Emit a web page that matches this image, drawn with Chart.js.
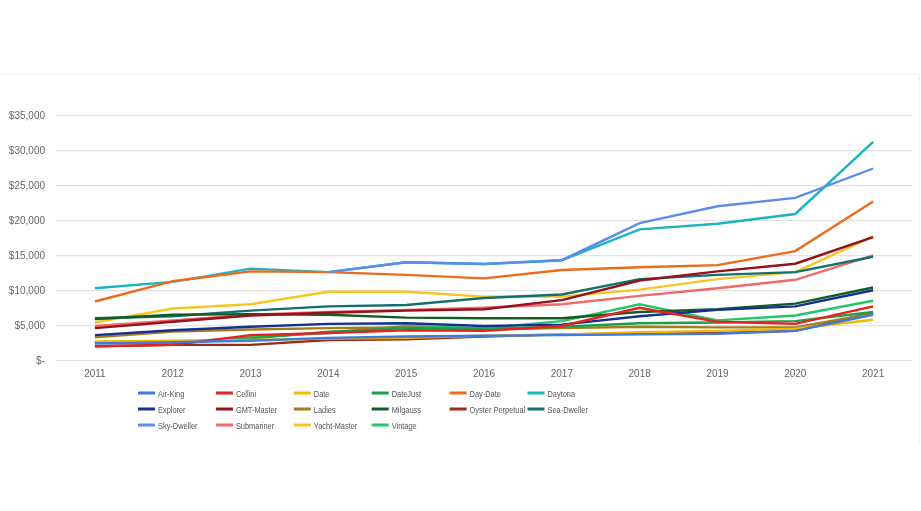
<!DOCTYPE html>
<html>
<head>
<meta charset="utf-8">
<script src="https://cdn.jsdelivr.net/npm/chart.js@4"></script>
<style>
  html, body { margin: 0; padding: 0; background: #ffffff; }
  #wrap { position: relative; width: 921px; height: 511px; }
  #frame { position: absolute; left: 0; top: 74px; width: 920px; height: 370px; border-top: 1px solid #f2f2f2; border-right: 1px solid #f2f2f2; box-sizing: border-box; }
  canvas { position: absolute; left: 0; top: 0; }
</style>
</head>
<body>
<div id="wrap">
  <div id="frame"></div>
  <canvas id="c" width="921" height="511"></canvas>
</div>
<script>
const years = ['2011','2012','2013','2014','2015','2016','2017','2018','2019','2020','2021'];
const yTicks = [0, 5000, 10000, 15000, 20000, 25000, 30000, 35000];

const seriesNames = ['Air-King','Cellini','Date','DateJust','Day-Date','Daytona','Explorer','GMT-Master','Ladies','Milgauss','Oyster Perpetual','Sea-Dweller','Sky-Dweller','Submariner','Yacht-Master','Vintage'];

const airKing     = [2500, 2700, 2900, 3300, 3500, 3600, 3700, 3800, 3900, 4300, 6600];
const cellini     = [2100, 2300, 3700, 4000, 4400, 4300, 5000, 7600, 5600, 5300, 7800];
const date        = [2800, 2900, 3000, 3200, 3300, 3600, 3800, 4100, 4300, 4600, 5900];
const dateJust    = [2700, 2500, 3200, 4200, 4700, 4600, 4900, 5400, 5500, 5700, 7000];
const dayDate     = [8500, 11400, 12800, 12700, 12300, 11800, 13000, 13400, 13700, 15700, 22800];
const daytona     = [10400, 11300, 13200, 12700, 14100, 13850, 14400, 18800, 19600, 21000, 31300];
const explorer    = [3700, 4400, 4900, 5300, 5400, 5000, 5200, 6400, 7300, 7800, 10100];
const gmtMaster   = [4700, 5600, 6500, 6900, 7200, 7400, 8700, 11500, 12800, 13900, 17700];
const ladies      = [3400, 4200, 4500, 4700, 4800, 4500, 4700, 4900, 4800, 4800, 6800];
const milgauss    = [6000, 6600, 6700, 6600, 6200, 6100, 6100, 7000, 7400, 8200, 10500];
const oyster      = [2100, 2300, 2300, 3000, 3100, 3500, 3800, 3900, 4000, 4300, 6900];
const seaDweller  = [6100, 6400, 7200, 7800, 8000, 9000, 9500, 11700, 12300, 12700, 14900];
const skyDweller  = [null, null, null, 12700, 14100, 13850, 14400, 19700, 22100, 23300, 27500];
const submariner  = [5000, 5800, 6600, 7000, 7300, 7600, 8100, 9300, 10400, 11600, 15100];
const yachtMaster = [5500, 7500, 8100, 9900, 9900, 9200, 9200, 10200, 11700, 12700, 17800];
const vintage     = [2600, 2600, 3400, 4000, 5000, 4700, 5700, 8100, 5800, 6500, 8600];

const seriesValues = [airKing, cellini, date, dateJust, dayDate, daytona, explorer, gmtMaster, ladies, milgauss, oyster, seaDweller, skyDweller, submariner, yachtMaster, vintage];
const seriesColors = ['#3D7BE0','#E32222','#F5B800','#1E9E48','#EE6A1C','#1BB5C0','#16308F','#96111A','#A47D1D','#145C24','#9E2B12','#13706F','#5B8DEB','#EF6B6B','#F6C624','#25C46A'];

const datasets = seriesNames.map((name, i) => ({
  label: name,
  data: seriesValues[i],
  borderColor: seriesColors[i],
  backgroundColor: seriesColors[i],
  borderWidth: 2.4,
  pointRadius: 0,
  pointHoverRadius: 0,
  tension: 0,
  fill: false,
  order: name === 'Sky-Dweller' ? -1 : 0
}));

const gridLegend = {
  id: 'gridLegend',
  afterDraw(chart) {
    const ctx = chart.ctx;
    ctx.save();
    chart.data.datasets.forEach((ds, i) => {
      const col = i % 6, row = Math.floor(i / 6);
      const x0 = 138 + col * 77.9;
      const y = 393 + row * 16;
      ctx.strokeStyle = ds.borderColor;
      ctx.lineWidth = 3;
      ctx.lineCap = 'butt';
      ctx.beginPath();
      ctx.moveTo(x0, y);
      ctx.lineTo(x0 + 17, y);
      ctx.stroke();
      ctx.save();
      ctx.translate(x0 + 20, y);
      ctx.scale(0.78, 1);
      ctx.fillStyle = '#555555';
      ctx.font = '9.5px "Liberation Sans", Arial, sans-serif';
      ctx.textBaseline = 'middle';
      ctx.textAlign = 'left';
      ctx.fillText(ds.label, 0, 1);
      ctx.restore();
    });
    ctx.restore();
  }
};

new Chart(document.getElementById('c'), {
  type: 'line',
  data: { labels: years, datasets: datasets },
  plugins: [gridLegend],
  options: {
    responsive: false,
    animation: false,
    devicePixelRatio: 1,
    layout: { padding: { top: 116, right: 9, bottom: 130, left: 0 } },
    plugins: {
      legend: { display: false },
      tooltip: { enabled: false }
    },
    scales: {
      x: {
        offset: true,
        grid: { display: false, drawTicks: false },
        border: { display: false },
        ticks: {
          color: '#666666',
          padding: 7,
          font: { family: '"Liberation Sans", Arial, sans-serif', size: 10 },
          maxRotation: 0
        },
        afterFit(s) { s.height = 20; }
      },
      y: {
        min: 0,
        max: 35000,
        afterBuildTicks(s) { s.ticks = yTicks.map(v => ({ value: v })); },
        grid: { color: '#e2e2e2', lineWidth: 1.3, drawTicks: false },
        border: { display: false },
        ticks: {
          color: '#666666',
          padding: 11,
          font: { family: '"Liberation Sans", Arial, sans-serif', size: 10 },
          callback: v => v === 0 ? '$-' : '$' + v.toLocaleString('en-US')
        },
        afterFit(s) { s.width = 56; }
      }
    }
  }
});
</script>
</body>
</html>
